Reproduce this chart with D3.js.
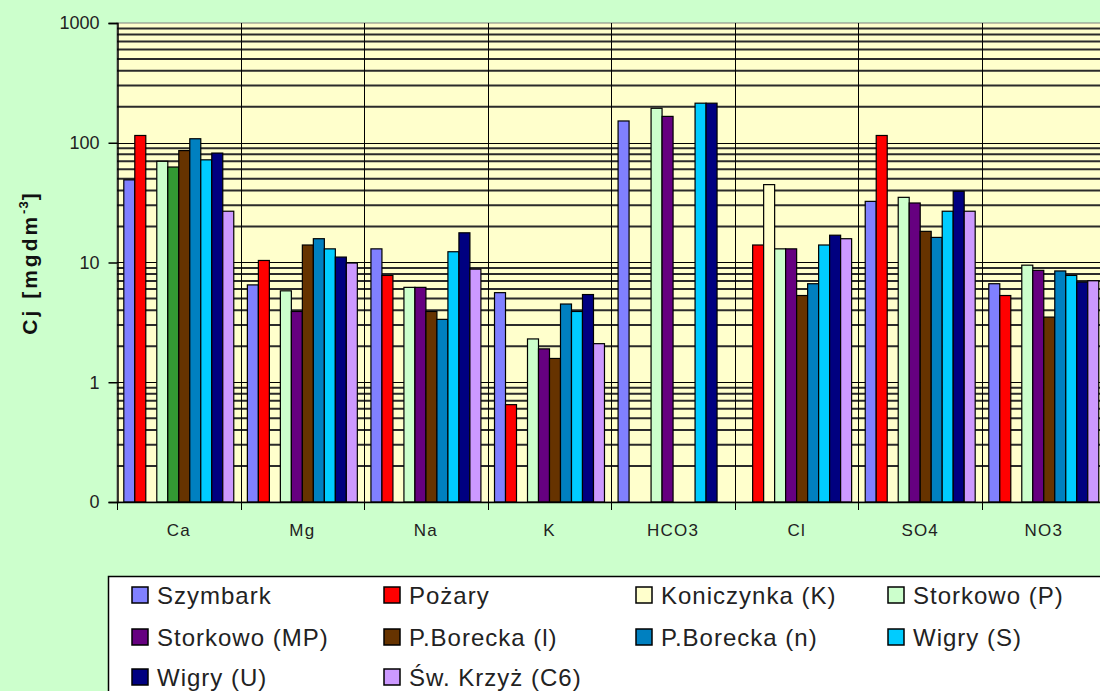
<!DOCTYPE html>
<html>
<head>
<meta charset="utf-8">
<script src="https://cdn.jsdelivr.net/npm/d3@7"></script>
<style>
  body { margin: 0; background: #ccffcc; }
  svg { display: block; font-family: "Liberation Sans", Arial, sans-serif; }
</style>
</head>
<body>
<div id="chart-area"></div>
<script>

// chart data (log scale, null = no bar)
let categories = ["Ca", "Mg", "Na", "K", "HCO3", "Cl", "SO4", "NO3"];
let series = ["Szymbark", "Pożary", "Koniczynka (K)", "Storkowo (P)", "Storkowo (MP)",
	"P.Borecka (l)", "P.Borecka (n)", "Wigry (S)", "Wigry (U)", "Św. Krzyż (C6)"];
let colors = ["#8080ff", "#ff0000", "#ffffcc", "#ccffcc", "#660080",
	"#663300", "#0080c0", "#00ccff", "#000080", "#cc99ff"];

let szymbark    = [49, 6.5, 13, 5.6, 152, null, 32.4, 6.65];
let pozary      = [115, 10.4, 7.8, 0.65, null, 14, 115, 5.3];
let koniczynka  = [null, null, null, null, null, 44.7, null, null];
let storkowoP   = [70, 5.8, 6.2, 2.3, 194, 13, 35, 9.5];
let storkowoMP  = [62.7, 3.9, 6.2, 1.9, 166, 13, 31.4, 8.6];
let boreckaL    = [86, 14, 3.9, 1.58, null, 5.3, 18.2, 3.5];
let boreckaN    = [108, 15.8, 3.35, 4.5, null, 6.65, 16.2, 8.5];
let wigryS      = [72, 13, 12.3, 3.9, 214, 14, 26.8, 7.8];
let wigryU      = [82, 11.1, 17.7, 5.4, 214, 16.9, 39.3, 6.86];
let swKrzyz     = [26.8, 9.9, 8.8, 2.1, null, 15.8, 26.8, 7.04];

let values = [szymbark, pozary, koniczynka, storkowoP, storkowoMP,
	boreckaL, boreckaN, wigryS, wigryU, swKrzyz];

// one bar in the picture has its own colour
let pointColors = [{category: "Ca", series: "Storkowo (MP)", color: "#339933"}];

let yTicks = [0.1, 1, 10, 100, 1000];
let yTickLabels = ["0", "1", "10", "100", "1000"];


// drawing area
let W = 1100, H = 691;
let margin = {top: 23, left: 117, bottom: 189};
let catWidth = 123.57;
let plotRight = margin.left + catWidth * categories.length;
let plotBottom = H - margin.bottom;

let svg = d3.select("#chart-area").append("svg")
	.attr("width", W)
	.attr("height", H);

svg.append("rect")
	.attr("width", W).attr("height", H)
	.attr("fill", "#ccffcc");

// scales
let x0 = d3.scaleBand()
	.domain(categories)
	.range([margin.left, plotRight])
	.padding(0);

let x1 = d3.scaleBand()
	.domain(series)
	.range([6.8, catWidth - 6.8])
	.padding(0);

let y = d3.scaleLog()
	.domain([0.1, 1000])
	.range([plotBottom, margin.top]);

// plot background
svg.append("rect")
	.attr("x", margin.left)
	.attr("y", margin.top)
	.attr("width", plotRight - margin.left)
	.attr("height", plotBottom - margin.top)
	.attr("fill", "#ffffcc")
	.attr("stroke", "#808080")
	.attr("stroke-width", 1);

// horizontal gridlines: minor (2..9 of each decade) and major
let minor = [];
[0.1, 1, 10, 100].forEach(d => {
	for (let k = 2; k <= 9; k++) minor.push(d * k);
});

svg.append("g").selectAll("line")
	.data(minor)
	.enter().append("line")
	.attr("x1", margin.left).attr("x2", plotRight)
	.attr("y1", d => y(d)).attr("y2", d => y(d))
	.attr("stroke", "#2b2b2b")
	.attr("stroke-width", 2);

svg.append("g").selectAll("line")
	.data([1, 10, 100])
	.enter().append("line")
	.attr("x1", margin.left).attr("x2", plotRight)
	.attr("y1", d => Math.round(y(d)) + 0.5).attr("y2", d => Math.round(y(d)) + 0.5)
	.attr("stroke", "#000")
	.attr("stroke-width", 1);

// vertical lines between categories (run down as the x ticks)
svg.append("g").selectAll("line")
	.data(categories.slice(1).concat(["end"]))
	.enter().append("line")
	.attr("x1", d => Math.round(d === "end" ? plotRight : x0(d)) + 0.5)
	.attr("x2", d => Math.round(d === "end" ? plotRight : x0(d)) + 0.5)
	.attr("y1", margin.top)
	.attr("y2", plotBottom + 8)
	.attr("stroke", "#000")
	.attr("stroke-width", 1);

// bars
let rows = [];
categories.forEach((c, ci) => {
	series.forEach((s, si) => {
		let v = values[si][ci];
		if (v == null) return;
		let over = pointColors.find(p => p.category === c && p.series === s);
		rows.push({cat: c, ser: s, value: v, color: over ? over.color : colors[si]});
	});
});

svg.append("g").selectAll("rect")
	.data(rows)
	.enter().append("rect")
	.attr("x", d => x0(d.cat) + x1(d.ser))
	.attr("y", d => y(d.value))
	.attr("width", x1.bandwidth())
	.attr("height", d => y(0.1) - y(d.value))
	.attr("fill", d => d.color)
	.attr("stroke", "#000")
	.attr("stroke-width", 1.2);

// y axis
let yAxis = d3.axisLeft(y)
	.tickValues(yTicks)
	.tickFormat((d, i) => yTickLabels[i])
	.tickSize(9)
	.tickPadding(9);

let yAxisGroup = svg.append("g")
	.attr("class", "y-axis axis")
	.attr("transform", "translate(" + (margin.left + 0.5) + ",0)")
	.call(yAxis);

yAxisGroup.select(".domain").attr("stroke", "#000").attr("stroke-width", 1.5);
yAxisGroup.selectAll(".tick line").attr("stroke", "#000").attr("stroke-width", 1.5);
yAxisGroup.selectAll("text")
	.attr("font-size", 18)
	.attr("fill", "#222")
	.attr("font-family", "Liberation Sans, Arial, sans-serif");

// x axis (labels only, ticks are the category lines)
let xAxis = d3.axisBottom(x0).tickSize(0).tickPadding(22);

let xAxisGroup = svg.append("g")
	.attr("class", "x-axis axis")
	.attr("transform", "translate(0," + plotBottom + ")")
	.call(xAxis);

xAxisGroup.select(".domain").attr("stroke", "#000").attr("stroke-width", 1.5);
xAxisGroup.selectAll("text")
	.attr("font-size", 17)
	.attr("letter-spacing", 1.2)
	.attr("fill", "#222")
	.attr("font-family", "Liberation Sans, Arial, sans-serif");

svg.append("line")
	.attr("x1", margin.left + 0.5).attr("x2", margin.left + 0.5)
	.attr("y1", plotBottom).attr("y2", plotBottom + 8)
	.attr("stroke", "#000");

// y axis title
let yTitle = svg.append("text")
	.attr("transform", "translate(37," + (margin.top + plotBottom) / 2 + ") rotate(-90)")
	.attr("text-anchor", "middle")
	.attr("font-size", 21)
	.attr("font-weight", "bold")
	.attr("letter-spacing", 3)
	.attr("fill", "#111");
yTitle.append("tspan").text("Cj [mgdm");
yTitle.append("tspan").attr("font-size", 13).attr("dy", -9).attr("letter-spacing", 1).text("-3");
yTitle.append("tspan").attr("dy", 9).text("]");

// legend
let legend = svg.append("g").attr("transform", "translate(108,576)");

legend.append("rect")
	.attr("x", 0.5).attr("y", 0.5)
	.attr("width", 1100).attr("height", 140)
	.attr("fill", "#fff")
	.attr("stroke", "#000")
	.attr("stroke-width", 1.5);

let colX = [24, 276, 528, 780];
let rowY = [19, 61, 101];

let items = legend.selectAll(".item")
	.data(series)
	.enter().append("g")
	.attr("class", "item")
	.attr("transform", (d, i) => "translate(" + colX[i % 4] + "," + rowY[Math.floor(i / 4)] + ")");

items.append("rect")
	.attr("x", 0).attr("y", -8)
	.attr("width", 16).attr("height", 16)
	.attr("fill", (d, i) => colors[i])
	.attr("stroke", "#000")
	.attr("stroke-width", 1.5);

items.append("text")
	.attr("x", 25)
	.attr("y", 8.5)
	.attr("font-size", 24)
	.attr("letter-spacing", 1)
	.attr("fill", "#222")
	.text(d => d);

</script>
</body>
</html>
